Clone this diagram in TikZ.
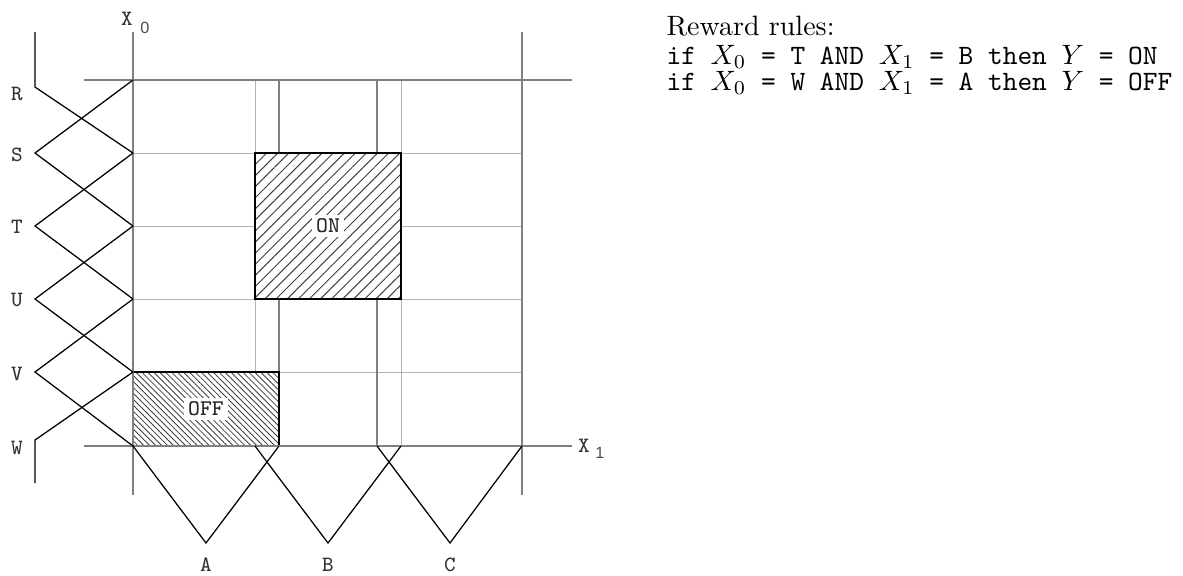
\documentclass[tikz,border=0pt]{standalone}
\usepackage{fontspec}
\newfontfamily\subsans{Liberation Sans}
\usetikzlibrary{patterns.meta}
\begin{document}
\begin{tikzpicture}[x=0.357pt,y=-0.357pt,
  axis/.style={draw=black!50, line width=0.9pt},
  gridthin/.style={draw=black!30, line width=0.35pt},
  gridmid/.style={draw=black!50, line width=0.55pt},
  mf/.style={draw=black, line width=0.45pt},
  lbl/.style={font=\ttfamily\fontsize{7.8}{8}\selectfont, text=black!80, inner sep=0pt},
  subl/.style={font=\subsans\fontsize{5.8}{6}\selectfont, text=black!70, inner sep=0pt},
  region/.style={draw=black, line width=0.5pt, preaction={fill=white}},
  tag/.style={fill=white, inner sep=1.5pt, font=\ttfamily\fontsize{8}{9}\selectfont, text=black!85},
  rule/.style={anchor=base west, inner sep=0pt}]
\useasboundingbox (0,0) rectangle (1183,575);
% key coordinates
\coordinate (x0top) at (133,32);   \coordinate (x0bot) at (133,495);
\coordinate (rtop) at (522,32);    \coordinate (rbot) at (522,495);
\coordinate (topL) at (84,80);     \coordinate (topR) at (572,80);
\coordinate (botL) at (84,446);    \coordinate (botR) at (572,446);
% inner grid
\foreach \y in {153,226,299,372} \draw[gridthin] (133,\y) -- (522,\y);
\foreach \x in {255,401} \draw[gridthin] (\x,80) -- (\x,446);
\foreach \x in {279,377} \draw[gridmid] (\x,80) -- (\x,446);
% regions
\draw[region, pattern={Lines[angle=45,distance=2.8pt,line width=0.35pt]}, pattern color=black!75]
  (255,153) rectangle (401,299);
\draw[region, pattern={Lines[angle=-45,distance=1.5pt,line width=0.3pt]}, pattern color=black!75]
  (133,372) rectangle (279,446);
% axes
\draw[axis] (topL) -- (topR);
\draw[axis] (botL) -- (botR);
\draw[gridmid] (x0top) -- (x0bot);
\draw[axis] (rtop) -- (rbot);
% membership functions on X0
\draw[mf] (35,32) -- (35,87) -- (133,153);
\draw[mf] (133,80) -- (35,153) -- (133,226);
\draw[mf] (133,153) -- (35,226) -- (133,299);
\draw[mf] (133,226) -- (35,299) -- (133,372);
\draw[mf] (133,299) -- (35,372) -- (133,446);
\draw[mf] (133,372) -- (35,440) -- (35,483);
% membership functions on X1
\draw[mf] (133,446) -- (206,543) -- (279,446);
\draw[mf] (255,446) -- (328,543) -- (401,446);
\draw[mf] (377,446) -- (450,543) -- (522,446);
% labels
\node[lbl] (lR) at (17,94) {R};
\node[lbl] (lS) at (17,155) {S};
\node[lbl] (lT) at (17,227) {T};
\node[lbl] (lU) at (17,300) {U};
\node[lbl] (lV) at (17,374) {V};
\node[lbl] (lW) at (17,448) {W};
\node[lbl] (lA) at (206,565) {A};
\node[lbl] (lB) at (328,565) {B};
\node[lbl] (lC) at (450,565) {C};
\node[lbl] (lX0) at (127,19) {X};
\node[subl] (lX0s) at (145,28) {0};
\node[lbl] (lX1) at (584,446) {X};
\node[subl] (lX1s) at (600,453) {1};
\node[tag] (on) at (328,226) {ON};
\node[tag] (off) at (206,409) {OFF};
% rules
\node[rule] (title) at (666,35) {Reward rules:};
\node[rule] (r1) at (666,64) {\texttt{if $X_0$ = T AND $X_1$ = B then $Y$ = ON}};
\node[rule] (r2) at (666,90) {\texttt{if $X_0$ = W AND $X_1$ = A then $Y$ = OFF}};
\end{tikzpicture}
\end{document}
